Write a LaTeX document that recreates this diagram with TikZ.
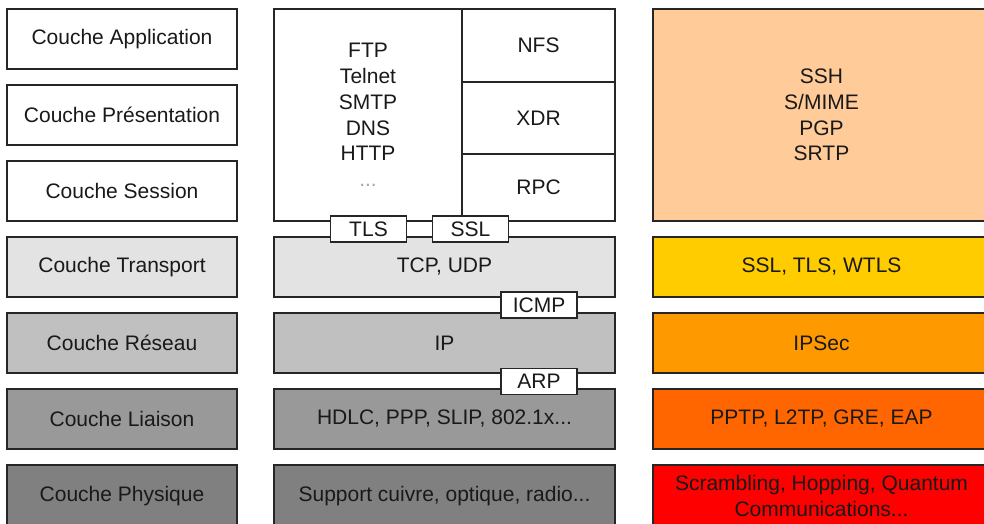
\documentclass[tikz,border=0pt]{standalone}
\usepackage{fontspec}
\setmainfont{Liberation Sans}
\usepackage{xcolor}
\usetikzlibrary{positioning}

\definecolor{grisA}{HTML}{E3E3E3}
\definecolor{grisB}{HTML}{C0C0C0}
\definecolor{grisC}{HTML}{999999}
\definecolor{grisD}{HTML}{808080}
\definecolor{peche}{HTML}{FFCC99}
\definecolor{jaune}{HTML}{FFCC00}
\definecolor{orangeA}{HTML}{FF9900}
\definecolor{orangeB}{HTML}{FF6600}
\definecolor{rouge}{HTML}{FF0000}

\tikzset{
  boite/.style={draw=black!85, line width=1.2pt, outer sep=0pt, inner sep=2pt,
    align=center, text=black!90, minimum height=60pt},
  couche/.style={boite, minimum width=230pt},
  proto/.style={boite, minimum width=341pt},
  secu/.style={boite, minimum width=337pt},
  tag/.style={draw=black!85, fill=white, line width=1.2pt, outer sep=0pt,
    inner sep=0pt, minimum width=76pt, minimum height=26pt, text=black!90}
}

\begin{document}
\begin{tikzpicture}[x=1pt, y=-1pt, font=\fontsize{21}{25.7}\selectfont]
    \clip (0,0) rectangle (984,524);
    % couches OSI
    \node[couche] (app) at (122,39) {Couche Application};
    \node[couche, below=16pt of app] (pres) {Couche Présentation};
    \node[couche, below=16pt of pres] (sess) {Couche Session};
    \node[couche, fill=grisA, below=16pt of sess] (trans) {Couche Transport};
    \node[couche, fill=grisB, below=16pt of trans] (res) {Couche Réseau};
    \node[couche, fill=grisC, below=16pt of res] (liai) {Couche Liaison};
    \node[couche, fill=grisD, minimum height=62pt, below=16pt of liai] (phys) {Couche Physique};

    % protocoles
    \node[proto, fill=grisA, right=37pt of trans] (tcp) {TCP, UDP};
    \node[proto, fill=grisB, right=37pt of res] (ip) {IP};
    \node[proto, fill=grisC, right=37pt of liai] (hdlc) {HDLC, PPP, SLIP, 802.1x...};
    \node[proto, fill=grisD, minimum height=62pt, right=37pt of phys] (supp) {Support cuivre, optique, radio...};
    \node[proto, anchor=north west, minimum width=188pt, minimum height=212pt] (apps)
      at (app.north -| tcp.west) {FTP\\Telnet\\SMTP\\DNS\\HTTP\\\textcolor{black!35}{...}};
    \node[proto, anchor=north west, minimum width=153pt, minimum height=73pt] (nfs)
      at (apps.north east) {NFS};
    \node[proto, minimum width=153pt, minimum height=72pt, below=0pt of nfs] (xdr) {XDR};
    \node[proto, minimum width=153pt, minimum height=67pt, below=0pt of xdr] (rpc) {RPC};

    \node[tag] (tls) at (368.5,229) {TLS};
    \node[tag] (ssl) at (470.5,229) {SSL};
    \node[tag] (icmp) at (539,305) {ICMP};
    \node[tag] (arp) at (539,381.5) {ARP};

    % securite
    \node[secu, fill=jaune, right=38pt of tcp] (sectr) {SSL, TLS, WTLS};
    \node[secu, fill=orangeA, right=38pt of ip] (secres) {IPSec};
    \node[secu, fill=orangeB, right=38pt of hdlc] (secliai) {PPTP, L2TP, GRE, EAP};
    \node[secu, fill=rouge, minimum height=62pt, right=38pt of supp] (secphys)
      {Scrambling, Hopping, Quantum\\Communications...};
    \node[secu, fill=peche, anchor=north west, minimum height=212pt] (secapp)
      at (app.north -| sectr.west) {SSH\\S/MIME\\PGP\\SRTP};
\end{tikzpicture}
\end{document}
